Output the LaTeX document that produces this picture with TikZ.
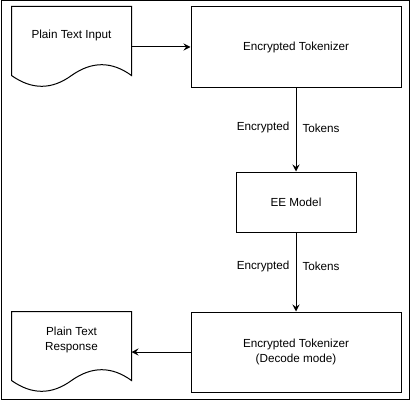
\documentclass[tikz,border=0pt]{standalone}
\usepackage{fontspec}
\setmainfont{Liberation Sans}
\usetikzlibrary{arrows.meta,calc}
\newcommand{\docoutline}[1]{%
  \draw (#1.north west) -- (#1.north east) -- ($(#1.south east)+(0,12)$)
    .. controls ($(#1.south east)+(-19.83,-2.4)$) and ($(#1.south east)+(-39.67,-2.4)$) .. ($(#1.south)+(0,12)$)
    .. controls ($(#1.south)+(-19.83,26.4)$) and ($(#1.south)+(-39.67,26.4)$) .. ($(#1.south west)+(0,12)$) -- cycle;}
\begin{document}
\begin{tikzpicture}[x=1pt,y=-1pt,line width=1pt,
        font=\fontsize{11.7}{15}\selectfont,
        box/.style={draw,minimum width=210pt,minimum height=80pt,inner sep=0pt,align=center},
        doc/.style={minimum width=119pt,minimum height=56pt,inner sep=0pt,align=center},
        arr/.style={-{Stealth[length=7pt,width=7pt,inset=2.5pt]}},
        lbl/.style={inner sep=6pt}]
        \useasboundingbox (0,0) rectangle (411,401);
        \draw (1,1) rectangle (409,399);
        \node [doc] (input) at (71.5,35) {Plain Text Input};
        \docoutline{input}
        \node [box] (enc) at (296,47) {Encrypted Tokenizer};
        \node [box,minimum width=120pt,minimum height=60pt] (model) at (296,202) {EE Model};
        \node [box] (dec) at (296,352) {Encrypted Tokenizer\\(Decode mode)};
        \node [doc] (resp) at (71.5,340) {Plain Text\\Response};
        \docoutline{resp}
        \draw [arr] (input.east |- enc.west) -- (enc.west);
        \draw [arr] (enc) -- node [lbl,pos=0.48,left] (enclbla) {Encrypted} node [lbl,pos=0.48,right] (enclblb) {Tokens} (model);
        \draw [arr] (model) -- node [lbl,pos=0.43,left] (modlbla) {Encrypted} node [lbl,pos=0.43,right] (modlblb) {Tokens} (dec);
        \draw [arr] (dec.west) -- (resp.east |- dec.west);
    \end{tikzpicture}
\end{document}
